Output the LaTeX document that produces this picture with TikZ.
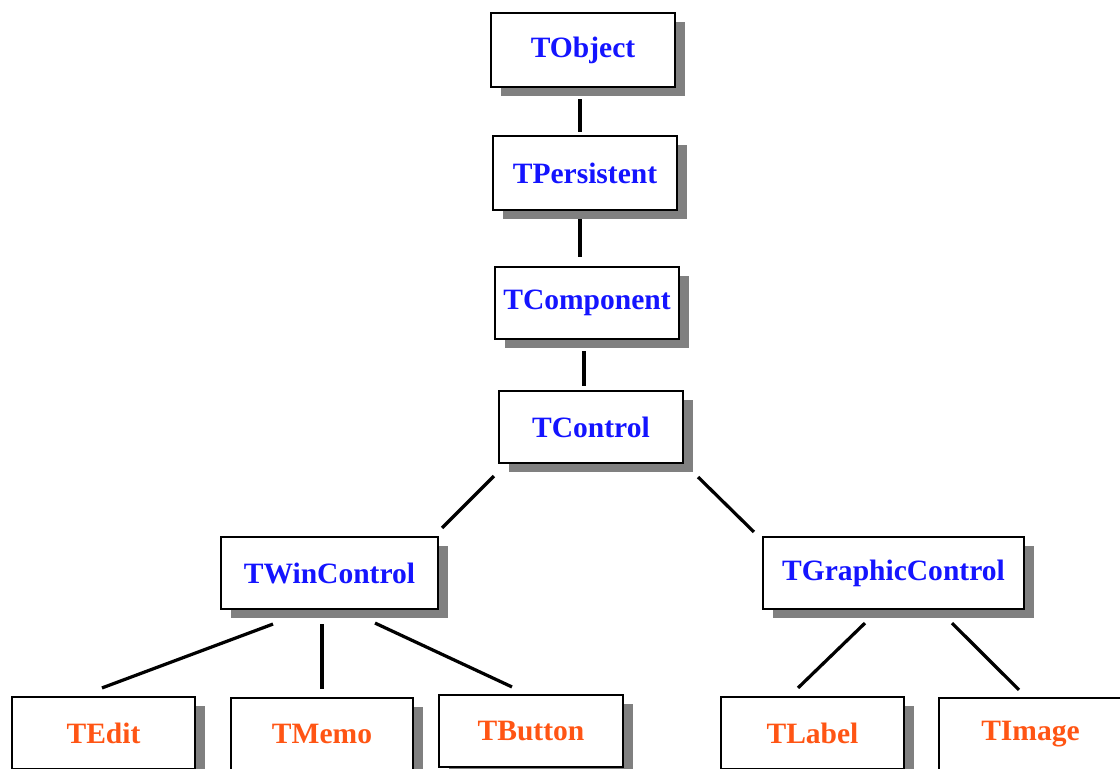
\documentclass[tikz,border=0pt]{standalone}
\usepackage{fontspec}
\setmainfont{Liberation Serif}
\usepackage{xcolor}
\usepackage{tikz}
\usetikzlibrary{shadows,calc}

\definecolor{clsblue}{RGB}{20,20,255}
\definecolor{leaforange}{RGB}{255,85,20}

\begin{document}
\begin{tikzpicture}[
x=0.025cm, y=-0.025cm,
cls/.style={
    draw,
    line width=1.5pt,
    fill=white,
    rectangle,
    minimum width=4.6cm,
    minimum height=1.8cm,
    text=clsblue,
    font=\fontsize{21}{25}\selectfont\bfseries,
    drop shadow={shadow xshift=0.25cm, shadow yshift=-0.225cm, fill=black!50, opacity=1}
},
leaf/.style={cls, text=leaforange, minimum width=4.575cm},
link/.style={line width=2.3pt}
]
\useasboundingbox (0,0) rectangle (1120,769);
\clip (0,0) rectangle (1120,769);

\node[cls, minimum height=1.85cm] (tobject) at (583,50) {TObject};
\node[cls, minimum height=1.85cm] (tpersistent) at (585,173) {TPersistent};
\node[cls] (tcomponent) at (587,303) {TComponent};
\node[cls] (tcontrol) at (591,427) {TControl};
\node[cls, minimum width=5.425cm] (twincontrol) at (329.5,573) {TWinControl};
\node[cls, minimum width=6.525cm] (tgraphic) at (893.5,573) {TGraphicControl};

\node[leaf] (tedit) at (103.5,733) {TEdit};
\node[leaf, minimum width=4.55cm] (tmemo) at (322,734) {TMemo};
\node[leaf, minimum width=4.6cm] (tbutton) at (531,731) {TButton};
\node[leaf] (tlabel) at (812.5,733) {TLabel};
\node[leaf] (timage) at (1030.5,734) {TImage};

\draw[link] ($(tobject.south)+(-3,11)$) -- ($(tpersistent.north)+(-5,-3)$);
\draw[link] ($(tpersistent.south)+(-5,8)$) -- ($(tcomponent.north)+(-7,-9)$);
\draw[link] ($(tcomponent.south)+(-3,11)$) -- ($(tcontrol.north)+(-7,-4)$);
\draw[link] ($(tcontrol.south west)+(-4,12)$) -- ($(twincontrol.north east)+(3,-8)$);
\draw[link] ($(tcontrol.south east)+(14,13)$) -- ($(tgraphic.north west)+(-8,-4)$);
\draw[link] ($(twincontrol.south)+(-56.5,14)$) -- ($(tedit.north)+(-1.5,-8)$);
\draw[link] ($(twincontrol.south)+(-7.5,14)$) -- ($(tmemo.north)+(0,-8)$);
\draw[link] ($(twincontrol.south)+(45.5,13)$) -- ($(tbutton.north)+(-19,-7)$);
\draw[link] ($(tgraphic.south)+(-28.5,13)$) -- ($(tlabel.north)+(-14.5,-8)$);
\draw[link] ($(tgraphic.south)+(58.5,13)$) -- ($(timage.north)+(-11.5,-7)$);

\end{tikzpicture}
\end{document}
